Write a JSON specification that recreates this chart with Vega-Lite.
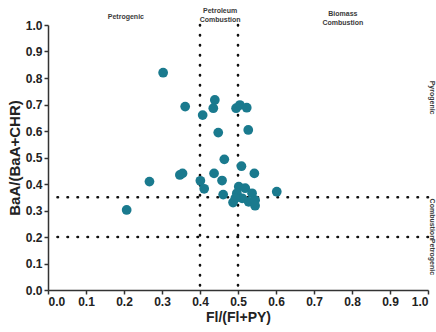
{
  "$schema": "https://vega.github.io/schema/vega-lite/v6.json",
  "width": 380,
  "height": 265,
  "autosize": {"type": "none"},
  "padding": {"left": 48, "top": 25, "right": 8, "bottom": 42},
  "background": "white",
  "config": {
    "view": {"stroke": null},
    "font": "Liberation Sans",
    "axis": {
      "grid": false,
      "domainColor": "#333333",
      "domainWidth": 1.5,
      "tickColor": "#333333",
      "tickWidth": 1.5,
      "tickSize": 4,
      "labelOverlap": false,
      "labelFont": "Liberation Sans",
      "labelFontWeight": "bold",
      "labelFontSize": 12,
      "labelColor": "#222222",
      "titleFont": "Liberation Sans",
      "titleFontWeight": "bold",
      "titleColor": "#222222"
    }
  },
  "datasets": {
    "pts": [
      {"fl": 0.303, "baa": 0.820},
      {"fl": 0.361, "baa": 0.692},
      {"fl": 0.439, "baa": 0.717},
      {"fl": 0.435, "baa": 0.686},
      {"fl": 0.407, "baa": 0.660},
      {"fl": 0.495, "baa": 0.686},
      {"fl": 0.505, "baa": 0.698},
      {"fl": 0.523, "baa": 0.688},
      {"fl": 0.448, "baa": 0.594},
      {"fl": 0.527, "baa": 0.604},
      {"fl": 0.464, "baa": 0.493},
      {"fl": 0.509, "baa": 0.467},
      {"fl": 0.543, "baa": 0.440},
      {"fl": 0.347, "baa": 0.434},
      {"fl": 0.354, "baa": 0.440},
      {"fl": 0.437, "baa": 0.440},
      {"fl": 0.401, "baa": 0.412},
      {"fl": 0.458, "baa": 0.413},
      {"fl": 0.411, "baa": 0.382},
      {"fl": 0.602, "baa": 0.371},
      {"fl": 0.461, "baa": 0.360},
      {"fl": 0.207, "baa": 0.302},
      {"fl": 0.267, "baa": 0.409},
      {"fl": 0.502, "baa": 0.390},
      {"fl": 0.519, "baa": 0.384},
      {"fl": 0.497, "baa": 0.365},
      {"fl": 0.537, "baa": 0.365},
      {"fl": 0.511, "baa": 0.346},
      {"fl": 0.528, "baa": 0.333},
      {"fl": 0.545, "baa": 0.339},
      {"fl": 0.545, "baa": 0.318},
      {"fl": 0.493, "baa": 0.346},
      {"fl": 0.487, "baa": 0.330}
    ],
    "hlines": [{"baa": 0.35}, {"baa": 0.2}],
    "vlines": [{"fl": 0.4}, {"fl": 0.5}],
    "toplabels": [
      {"fl": 0.205, "baa": 1.031, "t": "Petrogenic"},
      {"fl": 0.453, "baa": 1.052, "t": "Petroleum\nCombustion"},
      {"fl": 0.776, "baa": 1.043, "t": "Biomass\nCombustion"}
    ],
    "sidelabels": [
      {"fl": 1.01, "baa": 0.79, "t": "Pyrogenic"},
      {"fl": 1.01, "baa": 0.345, "t": "Combustion"},
      {"fl": 1.01, "baa": 0.193, "t": "Petrogenic"}
    ]
  },
  "encoding": {
    "x": {
      "field": "fl", "type": "quantitative",
      "scale": {"domain": [0, 1], "nice": false, "zero": true},
      "axis": {"values": [0, 0.1, 0.2, 0.3, 0.4, 0.5, 0.6, 0.7, 0.8, 0.9, 1.0], "format": ".1f", "labelOverlap": false, "title": "Fl/(Fl+PY)", "titleFontSize": 14, "titlePadding": 3, "labelPadding": 2}
    },
    "y": {
      "field": "baa", "type": "quantitative",
      "scale": {"domain": [0, 1], "nice": false},
      "axis": {"values": [0, 0.1, 0.2, 0.3, 0.4, 0.5, 0.6, 0.7, 0.8, 0.9, 1.0], "format": ".1f", "labelOverlap": false, "title": "BaA/(BaA+CHR)", "titleFontSize": 15, "titlePadding": 3, "labelPadding": 2}
    }
  },
  "layer": [
    {
      "data": {"name": "hlines"},
      "mark": {"type": "rule", "color": "#111111", "strokeWidth": 2.6, "strokeDash": [0.5, 9.5], "strokeCap": "round"},
      "encoding": {"x": null}
    },
    {
      "data": {"name": "vlines"},
      "mark": {"type": "rule", "color": "#111111", "strokeWidth": 2.6, "strokeDash": [0.5, 9.5], "strokeCap": "round"},
      "encoding": {"y": null}
    },
    {
      "data": {"name": "pts"},
      "mark": {"type": "point", "filled": true, "size": 95, "opacity": 1, "color": "#1a7a8e"}
    },
    {
      "data": {"name": "toplabels"},
      "mark": {"type": "text", "fontSize": 7, "fontWeight": "bold", "fill": "#3a3a3a", "lineBreak": "\n", "lineHeight": 9, "align": "center", "baseline": "middle", "clip": false},
      "encoding": {"text": {"field": "t"}}
    },
    {
      "data": {"name": "sidelabels"},
      "mark": {"type": "text", "fontSize": 7, "fontWeight": "bold", "fill": "#3a3a3a", "angle": 90, "align": "left", "baseline": "middle", "clip": false},
      "encoding": {"text": {"field": "t"}}
    }
  ]
}
